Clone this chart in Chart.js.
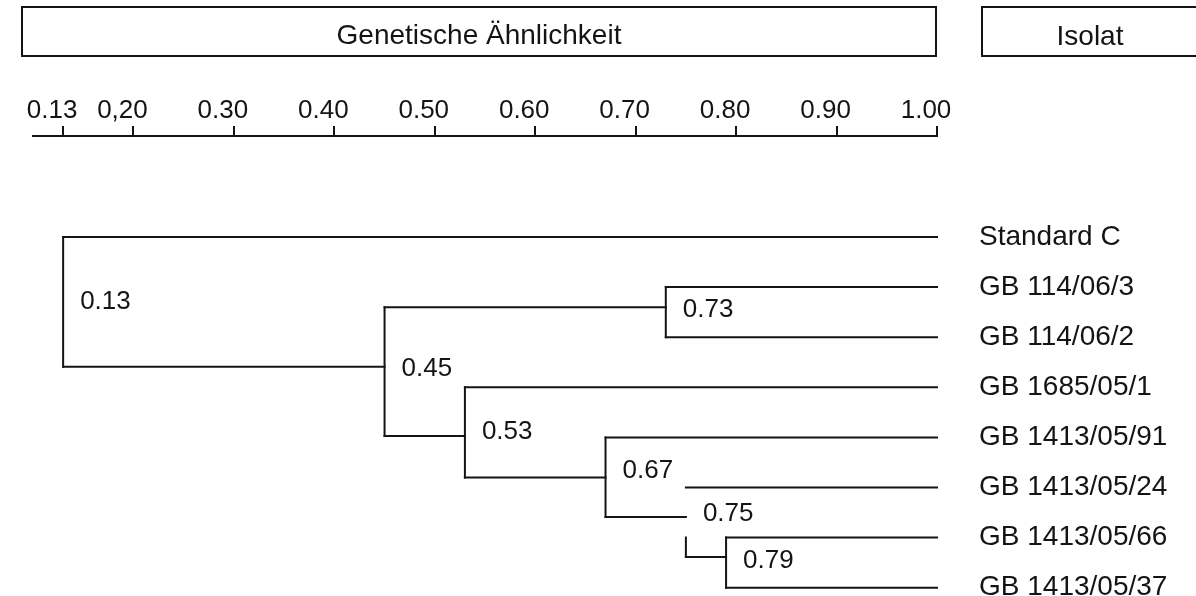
<!DOCTYPE html>
<html>
<head>
<meta charset="utf-8">
<script src="https://cdn.jsdelivr.net/npm/chart.js@4.4.1/dist/chart.umd.min.js"></script>
<style>
  html, body { margin: 0; padding: 0; background: #fff; }
  #wrap { width: 1196px; height: 596px; position: relative; }
</style>
</head>
<body>
<div id="wrap"><canvas id="dendro"></canvas></div>
<script>
// isolates, top to bottom (one row each)
const isolates = ['Standard C', 'GB 114/06/3', 'GB 114/06/2', 'GB 1685/05/1',
                  'GB 1413/05/91', 'GB 1413/05/24', 'GB 1413/05/66', 'GB 1413/05/37'];
// similarity where each isolate's branch leaves the tree
const leafStart = [0.13, 0.73, 0.73, 0.53, 0.67, 0.75, 0.79, 0.79];

// cluster nodes: similarity, vertical extent in rows, parent node
const nodeSim    = [0.13, 0.45, 0.73, 0.53, 0.67, 0.75, 0.79];
const nodeTop    = [0,    1.40, 1,    3,    4,    6,    6   ];
const nodeBottom = [2.59, 3.97, 2,    4.80, 5.59, 6.39, 7   ];
const nodeParent = [-1,   0,    1,    1,    3,    4,    5   ];
// row of the branch joining a node to its parent
const linkRow    = [null, 2.59, 1.40, 3.97, 4.80, 5.59, 6.39];
// row where each node's value is written
const nodeLabelRow = [1.30, 2.63, 1.46, 3.89, 4.67, 5.53, 6.47];

// similarity axis
const axisTicks  = [0.13, 0.20, 0.30, 0.40, 0.50, 0.60, 0.70, 0.80, 0.90, 1.00];
const axisLabels = ['0.13', '0,20', '0.30', '0.40', '0.50', '0.60', '0.70', '0.80', '0.90', '1.00'];

const INK = '#141414';
const FONT = "'Liberation Sans', Arial, Helvetica, sans-serif";
Chart.defaults.font.family = FONT;

// collect the tree as separate two-point segments
const segs = [];
nodeSim.forEach((s, i) => {
  segs.push([{x: s, y: nodeTop[i]}, {x: s, y: nodeBottom[i]}]);
  const p = nodeParent[i];
  if (p >= 0) segs.push([{x: nodeSim[p], y: linkRow[i]}, {x: s, y: linkRow[i]}]);
});
isolates.forEach((name, i) => {
  segs.push([{x: leafStart[i], y: i}, {x: 1.0, y: i}]);
});

const datasets = segs.map(d => ({
  data: d,
  showLine: true,
  borderColor: INK,
  borderWidth: 2,
  borderCapStyle: 'square',
  pointRadius: 0,
  pointHoverRadius: 0,
  clip: false
}));

// header boxes above the axis + node values
const decorations = {
  id: 'decorations',
  afterDraw(chart) {
    const {ctx, chartArea, scales} = chart;
    ctx.save();
    ctx.strokeStyle = INK;
    ctx.lineWidth = 2;
    ctx.fillStyle = INK;
    ctx.font = '28px ' + FONT;
    ctx.textAlign = 'center';
    ctx.textBaseline = 'alphabetic';

    const top = 7, bottom = 56;
    const left1 = 22, right1 = chartArea.right - 1;
    ctx.strokeRect(left1, top, right1 - left1, bottom - top);
    ctx.fillText('Genetische Ähnlichkeit', (left1 + right1) / 2, 44);

    const left2 = chartArea.right + 45, right2 = chart.width + 2;
    ctx.strokeRect(left2, top, right2 - left2, bottom - top);
    ctx.fillText('Isolat', (left2 + right2) / 2, 45);

    ctx.font = '26px ' + FONT;
    ctx.textAlign = 'left';
    ctx.textBaseline = 'middle';
    nodeSim.forEach((s, i) => {
      const x = scales.x.getPixelForValue(s) + 17;
      const y = scales.y.getPixelForValue(nodeLabelRow[i]);
      ctx.fillText(s.toFixed(2), x, y);
    });
    ctx.restore();
  }
};

new Chart(document.getElementById('dendro'), {
  type: 'scatter',
  data: { datasets },
  options: {
    responsive: true,
    maintainAspectRatio: false,
    animation: false,
    layout: { padding: { left: 33, right: 0, top: 0, bottom: 0 } },
    plugins: { legend: { display: false }, tooltip: { enabled: false } },
    events: [],
    scales: {
      x: {
        type: 'linear',
        position: 'top',
        min: 0.10,
        max: 1.00,
        afterBuildTicks: sc => { sc.ticks = axisTicks.map(v => ({value: v})); },
        afterFit: sc => { sc.height = 136; sc.paddingLeft = 0; sc.paddingRight = 0; },
        grid: { display: true, drawOnChartArea: false, drawTicks: true, tickLength: 10, color: INK, lineWidth: 2 },
        border: { display: true, color: INK, width: 2 },
        ticks: {
          padding: 0,
          labelOffset: -11,
          maxRotation: 0,
          autoSkip: false,
          color: INK,
          font: { size: 26 },
          callback: (v, i) => axisLabels[i]
        }
      },
      y: {
        type: 'linear',
        position: 'right',
        reverse: true,
        min: -2.016,
        max: 7.166,
        afterBuildTicks: sc => { sc.ticks = isolates.map((n, i) => ({value: i})); },
        afterFit: sc => { sc.width = 259; sc.paddingTop = 0; sc.paddingBottom = 0; },
        grid: { display: false, drawTicks: false },
        border: { display: false },
        ticks: {
          padding: 42,
          autoSkip: false,
          color: INK,
          font: { size: 28 },
          callback: (v, i) => isolates[i]
        }
      }
    }
  },
  plugins: [decorations]
});
</script>
</body>
</html>
